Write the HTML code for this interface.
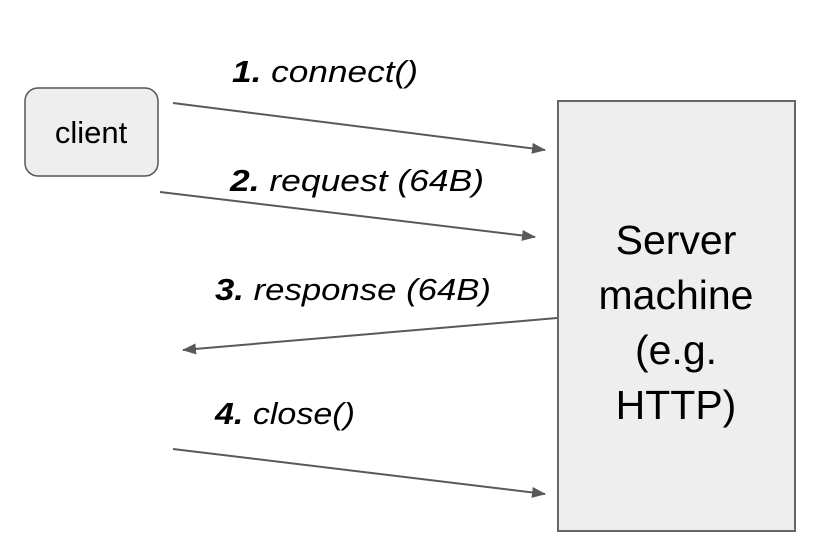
<!DOCTYPE html>
<html><head><style>html,body{margin:0;padding:0;background:#fff}svg{display:block}</style></head>
<body>
<svg width="818" height="556" viewBox="0 0 818 556" xmlns="http://www.w3.org/2000/svg" font-family="Liberation Sans, sans-serif">
<defs>
<marker id="a" markerWidth="14" markerHeight="11" refX="13" refY="5.5" orient="auto" markerUnits="userSpaceOnUse">
<path d="M0,0 L14,5.5 L0,11 Z" fill="#595959"/>
</marker>
</defs>
<rect x="25" y="88" width="133" height="88" rx="13" fill="#eeeeee" stroke="#555" stroke-width="1.5"/>
<text x="91" y="143" font-size="31" text-anchor="middle" fill="#000">client</text>
<rect x="558" y="101" width="237" height="430" fill="#eeeeee" stroke="#666" stroke-width="2"/>
<g font-size="41" text-anchor="middle" fill="#000">
<text x="676" y="254">Server</text>
<text x="676" y="309">machine</text>
<text x="676" y="364">(e.g.</text>
<text x="676" y="419">HTTP)</text>
</g>
<g stroke="#595959" stroke-width="2" fill="none" marker-end="url(#a)">
<line x1="173" y1="103" x2="545" y2="150"/>
<line x1="160" y1="192" x2="535" y2="237"/>
<line x1="557" y1="318" x2="183" y2="350"/>
<line x1="173" y1="449" x2="545" y2="494"/>
</g>
<g font-size="31" font-style="italic" fill="#000">
<text x="232" y="82" textLength="186" lengthAdjust="spacingAndGlyphs"><tspan font-weight="bold">1.</tspan> connect()</text>
<text x="230" y="191" textLength="254" lengthAdjust="spacingAndGlyphs"><tspan font-weight="bold">2.</tspan> request (64B)</text>
<text x="215" y="300" textLength="276" lengthAdjust="spacingAndGlyphs"><tspan font-weight="bold">3.</tspan> response (64B)</text>
<text x="215" y="424" textLength="140" lengthAdjust="spacingAndGlyphs"><tspan font-weight="bold">4.</tspan> close()</text>
</g>
</svg>
</body></html>
